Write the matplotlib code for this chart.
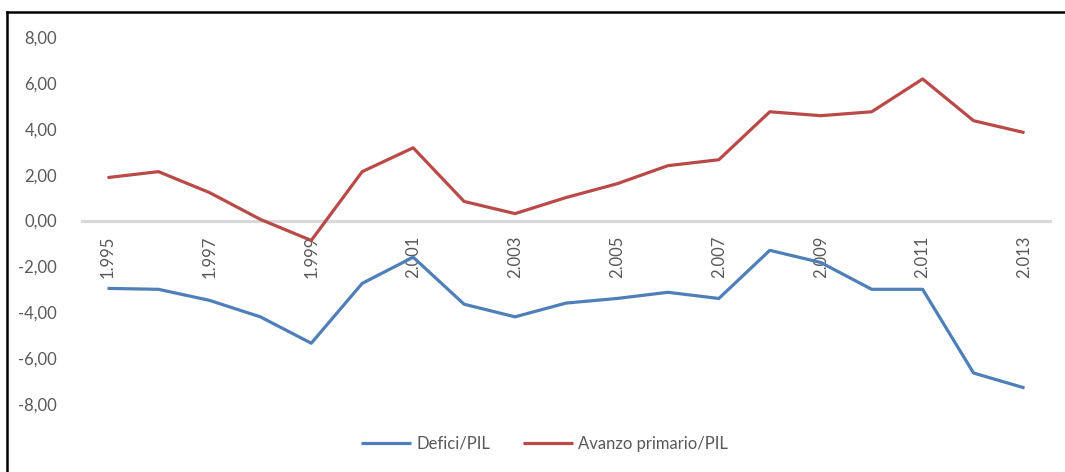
import numpy as np
import matplotlib
matplotlib.use("Agg")
from matplotlib import pyplot as plt
from matplotlib.lines import Line2D
from matplotlib.ticker import FuncFormatter

# yearly ratios to GDP, 1995-2013
years = list(range(1995, 2014))
deficit_pil = [-2.96, -3.00, -3.48, -4.20, -5.35, -2.74, -1.60, -3.65, -4.20, -3.60,
               -3.40, -3.13, -3.40, -1.30, -1.83, -3.00, -3.00, -6.65, -7.30]
avanzo_pil = [1.87, 2.13, 1.22, 0.05, -0.87, 2.13, 3.17, 0.83, 0.30, 1.00,
              1.60, 2.39, 2.65, 4.74, 4.57, 4.74, 6.17, 4.35, 3.83]
year_labels = ["1.995", "1.997", "1.999", "2.001", "2.003", "2.005", "2.007", "2.009", "2.011", "2.013"]

plt.rcParams["font.family"] = ["Lato", "DejaVu Sans"]
grey_txt = "#595959"

fig = plt.figure(figsize=(10.65, 4.72), dpi=100)
ax = fig.add_axes([82 / 1065, 1 - 404 / 472, 968 / 1065, 367 / 472])

ax.plot(years, deficit_pil, color="#4f7fb8", lw=2.3, label="Defici/PIL", solid_capstyle="butt")
ax.plot(years, avanzo_pil, color="#b94a48", lw=2.3, label="Avanzo primario/PIL", solid_capstyle="butt")

ax.set_xlim(1994.5, 2013.5)
ax.set_ylim(-8, 8)
ax.set_yticks(np.arange(-8, 9, 2))
ax.yaxis.set_major_formatter(FuncFormatter(lambda v, p: f"{v:.2f}".replace(".", ",")))

# zero line acts as the category axis
for side in ["top", "right", "left"]:
    ax.spines[side].set_visible(False)
ax.spines["bottom"].set_position(("data", 0))
ax.spines["bottom"].set_color("#d9d9d9")
ax.spines["bottom"].set_linewidth(2.2)
ax.spines["bottom"].set_zorder(1)

ax.set_xticks(years[::2])
ax.set_xticklabels(year_labels)

ax.tick_params(axis="both", length=0, colors=grey_txt, labelsize=12)
ax.tick_params(axis="x", pad=11, labelrotation=90)
ax.tick_params(axis="y", pad=18)

ax.legend(loc="upper center", bbox_to_anchor=(0.478, -0.045), ncol=2, frameon=False,
          fontsize=12, labelcolor=grey_txt, handlelength=3.0, handletextpad=0.3,
          columnspacing=2.0)

# outer frame, only top and left edges are in view
fig.add_artist(Line2D([7 / 1065, 7 / 1065], [0, 1 - 12 / 472], color="black", lw=1.8,
                      transform=fig.transFigure))
fig.add_artist(Line2D([7 / 1065, 1], [1 - 12 / 472, 1 - 12 / 472], color="black", lw=1.8,
                      transform=fig.transFigure))

fig.savefig("out.png", dpi=100)
